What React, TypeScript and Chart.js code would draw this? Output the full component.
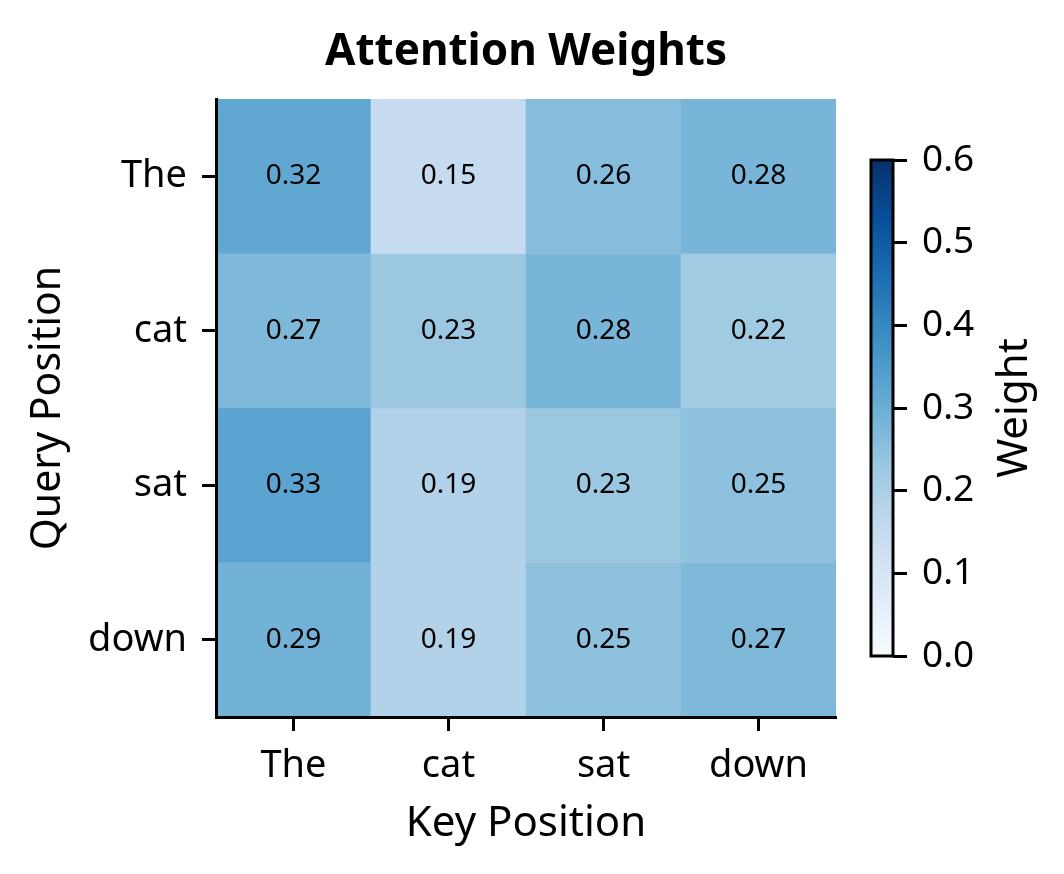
import React, { useEffect, useRef } from "react";
import { Chart, registerables } from "chart.js";

Chart.register(...registerables);

// ---- data ----
const chartTitle = "Attention Weights";
const keyLabels = ["The", "cat", "sat", "down"];
const queryLabels = ["The", "cat", "sat", "down"];
const rowThe = [0.32, 0.15, 0.26, 0.28];
const rowCat = [0.27, 0.23, 0.28, 0.22];
const rowSat = [0.33, 0.19, 0.23, 0.25];
const rowDown = [0.29, 0.19, 0.25, 0.27];
const weights = [rowThe, rowCat, rowSat, rowDown];
const colorbarTicks = [0, 0.1, 0.2, 0.3, 0.4, 0.5, 0.6];
const vmin = 0;
const vmax = 0.6;

const BLUES = [
  "#f7fbff", "#deebf7", "#c6dbef", "#9ecae1", "#6baed6",
  "#4292c6", "#2171b5", "#08519c", "#08306b",
];

const FONT = "'Noto Sans', sans-serif";

function hexToRgb(h: string) {
  const n = parseInt(h.slice(1), 16);
  return [(n >> 16) & 255, (n >> 8) & 255, n & 255];
}

function blues(t: number) {
  const tt = Math.max(0, Math.min(1, t)) * (BLUES.length - 1);
  const i = Math.min(Math.floor(tt), BLUES.length - 2);
  const f = tt - i;
  const a = hexToRgb(BLUES[i]);
  const b = hexToRgb(BLUES[i + 1]);
  const c = a.map((v, k) => Math.round(v + (b[k] - v) * f));
  return `rgb(${c[0]},${c[1]},${c[2]})`;
}

const annotatePlugin = {
  id: "cellAnnotations",
  afterDatasetsDraw(chart: any) {
    const ctx = chart.ctx;
    ctx.save();
    ctx.font = `28px ${FONT}`;
    ctx.fillStyle = "#000";
    ctx.textAlign = "center";
    ctx.textBaseline = "middle";
    chart.data.datasets.forEach((_ds: any, r: number) => {
      const meta = chart.getDatasetMeta(r);
      meta.data.forEach((el: any, c: number) => {
        const p = el.getProps(["x", "y", "base"], true);
        ctx.fillText(weights[r][c].toFixed(2), p.x, (p.y + p.base) / 2);
      });
    });
    ctx.restore();
  },
  afterDraw(chart: any) {
    const ctx = chart.ctx;
    const ca = chart.chartArea;
    ctx.save();
    ctx.font = `bold 44px ${FONT}`;
    ctx.fillStyle = "#000";
    ctx.textAlign = "center";
    ctx.textBaseline = "middle";
    ctx.fillText(chartTitle, (ca.left + ca.right) / 2, 52);
    ctx.restore();
  },
};

const colorbarPlugin = {
  id: "colorbarExtras",
  afterDraw(chart: any) {
    const ctx = chart.ctx;
    const ca = chart.chartArea;
    ctx.save();
    ctx.strokeStyle = "#000";
    ctx.lineWidth = 3;
    ctx.strokeRect(ca.left, ca.top, ca.right - ca.left, ca.bottom - ca.top);
    ctx.translate(187, (ca.top + ca.bottom) / 2);
    ctx.rotate(-Math.PI / 2);
    ctx.font = `42px ${FONT}`;
    ctx.fillStyle = "#000";
    ctx.textAlign = "center";
    ctx.textBaseline = "alphabetic";
    ctx.fillText("Weight", 0, 0);
    ctx.restore();
  },
};

export default function App() {
  const mainRef = useRef<HTMLCanvasElement>(null);
  const cbRef = useRef<HTMLCanvasElement>(null);

  useEffect(() => {
    const tickGrid = {
      display: true,
      drawOnChartArea: false,
      drawTicks: true,
      tickLength: 14,
      tickWidth: 3,
      tickColor: "#000",
      offset: false,
    };
    const spine = { display: true, color: "#000", width: 3, z: 2 };
    const main = new Chart(mainRef.current as HTMLCanvasElement, {
      type: "bar",
      data: {
        labels: keyLabels,
        datasets: weights.map((row, r) => ({
          label: queryLabels[r],
          data: row.map(() => [r - 0.5, r + 0.5]),
          backgroundColor: row.map((v) => blues((v - vmin) / (vmax - vmin))),
          borderWidth: 0,
          barPercentage: 1,
          categoryPercentage: 1,
          grouped: false,
        })),
      } as any,
      options: {
        animation: false,
        responsive: false,
        maintainAspectRatio: false,
        layout: { padding: { left: 0, right: 228, top: 99, bottom: 0 } },
        plugins: {
          legend: { display: false },
          tooltip: { enabled: false },
          title: { display: false },
        },
        scales: {
          x: {
            type: "category",
            offset: true,
            grid: tickGrid,
            border: spine,
            ticks: {
              color: "#000",
              font: { family: FONT, size: 38 },
              padding: 12,
              maxRotation: 0,
              autoSkip: false,
            },
            title: {
              display: true,
              text: "Key Position",
              color: "#000",
              font: { family: FONT, size: 42 },
              padding: { top: 0, bottom: 25 },
            },
            afterFit: (s: any) => {
              s.height = 157;
            },
          },
          y: {
            type: "linear",
            reverse: true,
            min: -0.5,
            max: 3.5,
            afterBuildTicks: (s: any) => {
              s.ticks = queryLabels.map((_l, i) => ({ value: i }));
            },
            grid: tickGrid,
            border: spine,
            ticks: {
              color: "#000",
              font: { family: FONT, size: 38 },
              padding: 15,
              callback: (v: any) => queryLabels[Math.round(Number(v))] ?? "",
            },
            title: {
              display: true,
              text: "Query Position",
              color: "#000",
              font: { family: FONT, size: 41 },
              padding: { top: 24, bottom: 0 },
            },
            afterFit: (s: any) => {
              s.width = 216;
            },
          },
        },
      } as any,
      plugins: [annotatePlugin],
    });

    const cb = new Chart(cbRef.current as HTMLCanvasElement, {
      type: "bar",
      data: {
        labels: ["Weight"],
        datasets: [
          {
            data: [[vmin, vmax]],
            borderWidth: 0,
            barPercentage: 1,
            categoryPercentage: 1,
            backgroundColor: (c: any) => {
              const ca = c.chart.chartArea;
              if (!ca) return BLUES[4];
              const g = c.chart.ctx.createLinearGradient(0, ca.bottom, 0, ca.top);
              BLUES.forEach((col, i) => g.addColorStop(i / (BLUES.length - 1), col));
              return g;
            },
          },
        ],
      } as any,
      options: {
        animation: false,
        responsive: false,
        maintainAspectRatio: false,
        layout: { padding: { left: 31, right: 0, top: 60, bottom: 64 } },
        plugins: { legend: { display: false }, tooltip: { enabled: false }, title: { display: false } },
        scales: {
          x: { display: false, offset: true },
          y: {
            type: "linear",
            position: "right",
            min: vmin,
            max: vmax,
            afterBuildTicks: (s: any) => {
              s.ticks = colorbarTicks.map((v) => ({ value: v }));
            },
            grid: tickGrid,
            border: { display: false },
            ticks: {
              color: "#000",
              font: { family: FONT, size: 37 },
              padding: 15,
              callback: (v: any) => Number(v).toFixed(1),
            },
            afterFit: (s: any) => {
              s.width = 171;
            },
          },
        },
      } as any,
      plugins: [colorbarPlugin],
    });

    return () => {
      main.destroy();
      cb.destroy();
    };
  }, []);

  return (
    <div style={{ position: "absolute", left: 0, top: 0, width: 1064, height: 874, background: "#fff" }}>
      <canvas
        ref={mainRef}
        width={1064}
        height={874}
        style={{ position: "absolute", left: 0, top: 0, width: 1064, height: 874 }}
      />
      <canvas
        ref={cbRef}
        width={224}
        height={620}
        style={{ position: "absolute", left: 840, top: 100, width: 224, height: 620 }}
      />
    </div>
  );
}
